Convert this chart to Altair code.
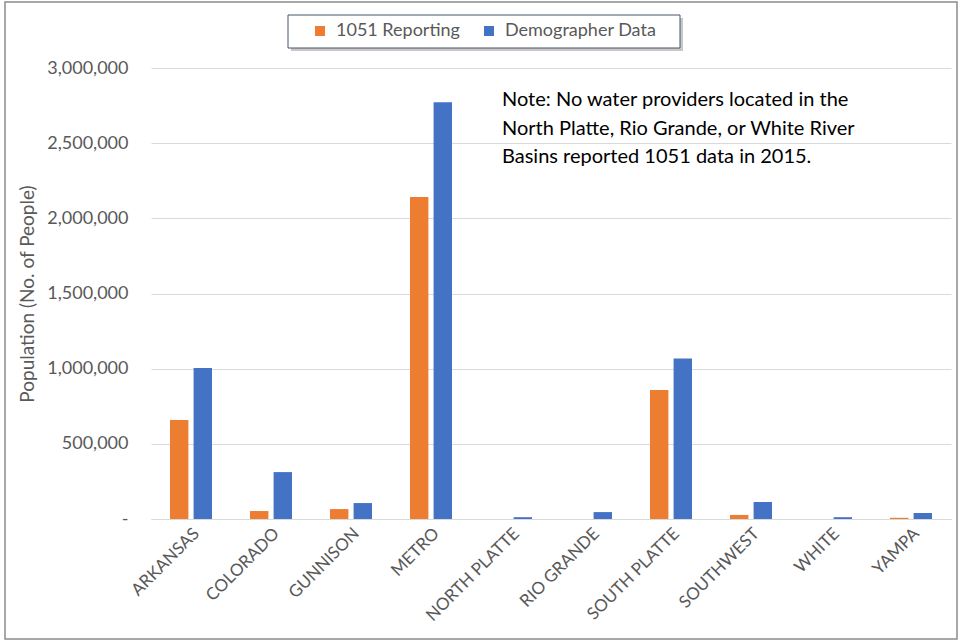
import altair as alt
import pandas as pd

basins = ["ARKANSAS", "COLORADO", "GUNNISON", "METRO", "NORTH PLATTE",
          "RIO GRANDE", "SOUTH PLATTE", "SOUTHWEST", "WHITE", "YAMPA"]
reporting_1051 = [658000, 53000, 66000, 2142000, 0, 0, 858000, 27000, 0, 8000]
demographer = [1004000, 312000, 106000, 2772000, 12000, 46000, 1068000, 113000, 12000, 40000]
series = ["1051 Reporting", "Demographer Data"]
colors = ["#ED7D31", "#4472C4"]
note_lines = ["Note: No water providers located in the",
              "North Platte, Rio Grande, or White River",
              "Basins reported 1051 data in 2015."]

rows = []
for b, r, d in zip(basins, reporting_1051, demographer):
    rows.append({"basin": b, "series": series[0], "value": r})
    rows.append({"basin": b, "series": series[1], "value": d})
df = pd.DataFrame(rows)

FONT = "Lato"
GRAY = "#595959"

one = pd.DataFrame({"a": [0]})

# legend frame (with a soft shadow) drawn behind the legend
legend_shadow = alt.Chart(one).mark_rect(fill="#c8c8c8", stroke=None).encode(
    x=alt.value(140), x2=alt.value(532), y=alt.value(-50), y2=alt.value(-17)
)
legend_box = alt.Chart(one).mark_rect(fill="white", stroke="#44546a", strokeWidth=1).encode(
    x=alt.value(137), x2=alt.value(529), y=alt.value(-53), y2=alt.value(-20)
)

bars = alt.Chart(df).mark_bar().encode(
    x=alt.X("basin:N", sort=basins, title=None,
            scale=alt.Scale(paddingInner=0.475, paddingOuter=0.2375),
            axis=alt.Axis(labelAngle=-45, labelAlign="right", labelBaseline="top",
                          labelFontSize=17, labelColor=GRAY, labelFont=FONT,
                          ticks=False, domainColor="#d9d9d9", labelPadding=6)),
    xOffset=alt.XOffset("series:N", sort=series,
                        scale=alt.Scale(paddingInner=0.22, paddingOuter=0)),
    y=alt.Y("value:Q", title="Population (No. of People)",
            scale=alt.Scale(domain=[0, 3000000]),
            axis=alt.Axis(values=[0, 500000, 1000000, 1500000, 2000000, 2500000, 3000000],
                          labelExpr="datum.value == 0 ? '-' : format(datum.value, ',')",
                          labelFontSize=18, labelColor=GRAY, labelFont=FONT,
                          titleFontSize=19, titleColor=GRAY, titleFont=FONT,
                          titleFontWeight="normal", titlePadding=9,
                          ticks=False, domain=False, gridColor="#d9d9d9",
                          labelPadding=23)),
    color=alt.Color("series:N", sort=series,
                    scale=alt.Scale(domain=series, range=colors),
                    legend=alt.Legend(title=None, orient="none", direction="horizontal",
                                      legendX=160, legendY=-46,
                                      symbolType="square", symbolSize=100,
                                      labelFontSize=18, labelColor=GRAY, labelFont=FONT,
                                      columnPadding=20, padding=0,
                                      symbolStrokeWidth=0, labelOffset=7))
)

note_df = pd.DataFrame({"line": note_lines, "i": [0, 1, 2]})
note = alt.Chart(note_df).mark_text(
    align="left", baseline="middle", fontSize=20, font=FONT, color="black"
).encode(
    x=alt.value(351),
    y=alt.Y("i:O", axis=None, scale=alt.Scale(range=[32, 89], type="point", padding=0)),
    text="line:N"
)

border = alt.Chart(one).mark_rect(
    fill=None, stroke="#8c8c8c", strokeWidth=1.5
).encode(
    x=alt.value(-146), x2=alt.value(806), y=alt.value(-66), y2=alt.value(571)
)

chart = alt.layer(legend_shadow, legend_box, bars, note, border).resolve_scale(y="independent").properties(
    width=800, height=451,
    autosize=alt.AutoSizeParams(type="none"),
    padding={"left": 151, "top": 68, "right": 11, "bottom": 125},
    background="white"
).configure_view(stroke=None)

chart.save("out.html", embed_options={"renderer": "svg", "actions": False})
